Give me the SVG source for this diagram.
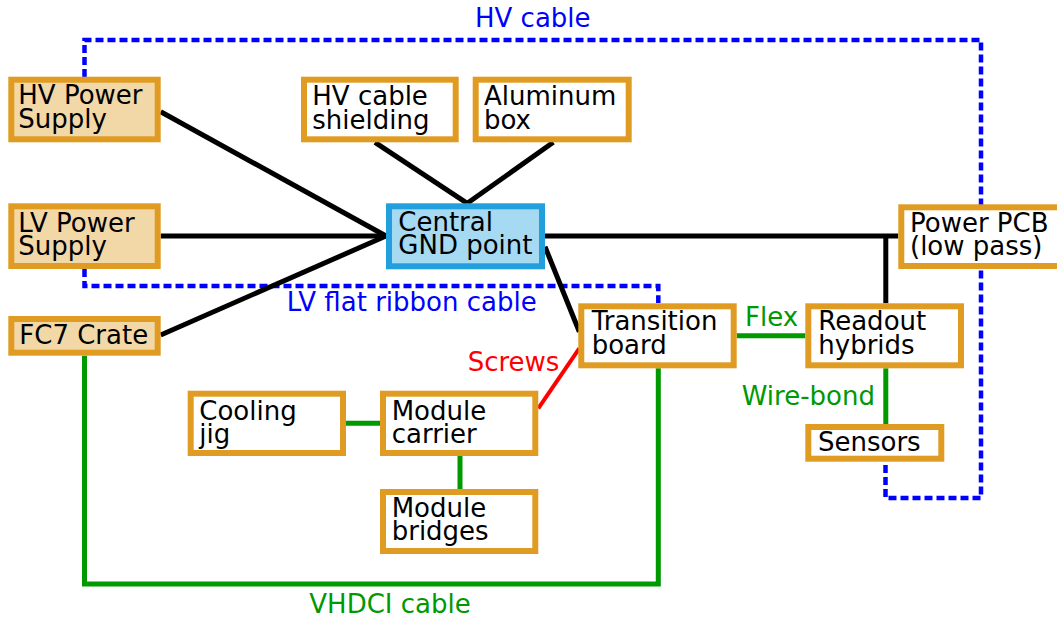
<svg xmlns="http://www.w3.org/2000/svg" width="1057" height="621" viewBox="0 0 1057 621">
<style>
  text { font-family: "DejaVu Sans", "Verdana", sans-serif; font-size: 26px; }
  .box rect { stroke: #e09c22; stroke-width: 6; fill: #ffffff; }
  .box.ps rect { fill: #f2d7a7; }
  .box.gnd rect { stroke: #22a0dd; fill: #a6d9f2; }
  .box text { fill: #000000; }
  .blk { stroke: #000000; stroke-width: 5; fill: none; }
  .grn { stroke: #009900; stroke-width: 5; fill: none; }
  .red { stroke: #ff0000; stroke-width: 4; fill: none; }
  .dash { stroke: #0000ff; stroke-width: 4.5; fill: none; stroke-dasharray: 8 4; }
  .lblB { fill: #0000ff; }
  .lblG { fill: #009900; }
  .lblR { fill: #ff0000; }
</style>
<rect x="0" y="0" width="1057" height="621" fill="#ffffff"/>
<g id="connectors">
  <path class="dash" d="M84.5,77 V40 H981 V498 H885.5 V462"/>
  <path class="dash" d="M84.5,269 V286 H658.3 V303"/>
  <line class="blk" x1="160.7" y1="111.7" x2="386" y2="236"/>
  <line class="blk" x1="160.7" y1="236" x2="386" y2="236"/>
  <line class="blk" x1="160.7" y1="335" x2="386" y2="236"/>
  <line class="blk" x1="375" y1="142.3" x2="467.3" y2="203.3"/>
  <line class="blk" x1="553.3" y1="142.3" x2="467.3" y2="203.3"/>
  <line class="blk" x1="545" y1="236" x2="898.3" y2="236"/>
  <line class="blk" x1="885.8" y1="236" x2="885.8" y2="303.3"/>
  <line class="blk" x1="545" y1="246.7" x2="579.3" y2="331.7"/>
  <path class="grn" d="M84.5,355.7 V584 H658.3 V368.3"/>
  <line class="grn" x1="736.7" y1="335.7" x2="805.3" y2="335.7"/>
  <line class="grn" x1="885.8" y1="368.3" x2="885.8" y2="424"/>
  <line class="grn" x1="346" y1="423.3" x2="380" y2="423.3"/>
  <line class="grn" x1="460" y1="456" x2="460" y2="489"/>
  <line class="red" x1="538.3" y1="408.3" x2="579.3" y2="348.3"/>
  <text class="lblB" x="475" y="27.3">HV cable</text>
  <text class="lblB" x="286.7" y="310.5">LV flat ribbon cable</text>
  <text class="lblG" x="309.3" y="613">VHDCI cable</text>
  <text class="lblG" x="745" y="325.7">Flex</text>
  <text class="lblG" x="741.7" y="405">Wire-bond</text>
  <text class="lblR" x="467.7" y="370.7">Screws</text>
</g>
<g id="hv-power-supply" class="box ps">
  <rect x="11.3" y="79.7" width="146.4" height="59.6"/>
  <text x="18.3" y="104">HV Power</text>
  <text x="18.3" y="128">Supply</text>
</g>
<g id="lv-power-supply" class="box ps">
  <rect x="11.3" y="206.3" width="146.4" height="59.7"/>
  <text x="18.3" y="231.7">LV Power</text>
  <text x="18.3" y="255">Supply</text>
</g>
<g id="fc7-crate" class="box ps">
  <rect x="11.3" y="319" width="146.4" height="33.7"/>
  <text x="19.3" y="344">FC7 Crate</text>
</g>
<g id="hv-cable-shielding" class="box">
  <rect x="304" y="79.7" width="151.7" height="59.6"/>
  <text x="312.3" y="105">HV cable</text>
  <text x="312.3" y="129">shielding</text>
</g>
<g id="aluminum-box" class="box">
  <rect x="475.7" y="79.7" width="153" height="59.6"/>
  <text x="484" y="105">Aluminum</text>
  <text x="484" y="129">box</text>
</g>
<g id="central-gnd" class="box gnd">
  <rect x="389" y="206.3" width="153" height="60"/>
  <text x="398.3" y="230.7">Central</text>
  <text x="398.3" y="254">GND point</text>
</g>
<g id="power-pcb" class="box">
  <rect x="901.3" y="207.3" width="170" height="58.7"/>
  <text x="910" y="231.7">Power PCB</text>
  <text x="910" y="255">(low pass)</text>
</g>
<g id="transition-board" class="box">
  <rect x="581.3" y="306.3" width="152.4" height="59"/>
  <text x="591.7" y="330">Transition</text>
  <text x="591.7" y="354">board</text>
</g>
<g id="readout-hybrids" class="box">
  <rect x="808.3" y="306.3" width="152.7" height="59"/>
  <text x="818.3" y="330">Readout</text>
  <text x="818.3" y="354">hybrids</text>
</g>
<g id="sensors" class="box">
  <rect x="808.3" y="427" width="133" height="31.7"/>
  <text x="818" y="450.7">Sensors</text>
</g>
<g id="cooling-jig" class="box">
  <rect x="190.7" y="393.7" width="152.3" height="59.3"/>
  <text x="199.3" y="420">Cooling</text>
  <text x="199.3" y="443">jig</text>
</g>
<g id="module-carrier" class="box">
  <rect x="383" y="393.7" width="152.3" height="59.3"/>
  <text x="391.7" y="420">Module</text>
  <text x="391.7" y="443">carrier</text>
</g>
<g id="module-bridges" class="box">
  <rect x="383" y="492" width="152.3" height="59"/>
  <text x="391.7" y="516.7">Module</text>
  <text x="391.7" y="540">bridges</text>
</g>
</svg>
